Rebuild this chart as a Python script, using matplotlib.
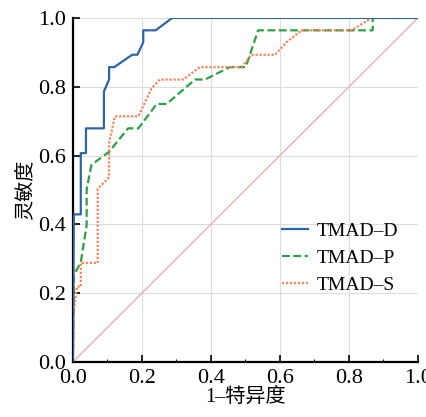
import matplotlib.pyplot as plt
from matplotlib.ticker import MultipleLocator

# ROC curves
d_fpr = [0, 0.003, 0.023, 0.023, 0.038, 0.038, 0.09, 0.09, 0.105, 0.105, 0.12, 0.172, 0.187, 0.204, 0.204, 0.24, 0.288, 1.0]
d_tpr = [0, 0.429, 0.429, 0.607, 0.607, 0.679, 0.679, 0.786, 0.821, 0.857, 0.857, 0.893, 0.893, 0.929, 0.964, 0.964, 1.0, 1.0]

p_fpr = [0, 0.003, 0.023, 0.03, 0.04, 0.04, 0.054, 0.105, 0.16, 0.19, 0.243, 0.272, 0.354, 0.383, 0.455, 0.501, 0.537, 0.869, 0.869, 1.0]
p_tpr = [0, 0.253, 0.289, 0.335, 0.398, 0.502, 0.573, 0.611, 0.679, 0.679, 0.75, 0.75, 0.821, 0.821, 0.857, 0.857, 0.964, 0.964, 1.0, 1.0]

s_fpr = [0, 0.003, 0.012, 0.023, 0.023, 0.072, 0.072, 0.105, 0.105, 0.122, 0.19, 0.228, 0.252, 0.32, 0.368, 0.489, 0.518, 0.586, 0.62, 0.663, 0.808, 0.866, 1.0]
s_tpr = [0, 0.151, 0.219, 0.219, 0.288, 0.288, 0.503, 0.537, 0.636, 0.714, 0.714, 0.795, 0.821, 0.821, 0.857, 0.857, 0.893, 0.893, 0.93, 0.964, 0.964, 1.0, 1.0]

plt.rcParams['font.family'] = ['Liberation Serif', 'Noto Sans CJK SC']
plt.rcParams['font.size'] = 15

fig = plt.figure(figsize=(4.26, 4.17), dpi=100)
ax = fig.add_axes([0.171, 0.132, 0.81, 0.825])

ax.plot([0, 1], [0, 1], color='#e6b0b6', lw=1.0, zorder=1)
ax.plot(d_fpr, d_tpr, color='#2d66a6', lw=1.6, label='TMAD–D', zorder=4)
ax.plot(p_fpr, p_tpr, color='#2ea043', lw=1.6, ls=(0, (3.5, 1.6)), label='TMAD–P', zorder=3)
ax.plot(s_fpr, s_tpr, color='#f5845a', lw=1.6, ls=(0, (1, 0.8)), label='TMAD–S', zorder=3)

ax.set_xlim(0, 1)
ax.set_ylim(0, 1)
ax.xaxis.set_major_locator(MultipleLocator(0.2))
ax.xaxis.set_minor_locator(MultipleLocator(0.1))
ax.yaxis.set_major_locator(MultipleLocator(0.2))
ax.set_xticklabels([f'{v:.1f}' for v in ax.get_xticks()])
ax.set_yticklabels([f'{v:.1f}' for v in ax.get_yticks()])
ax.tick_params(which='both', direction='in', top=False, right=False, labelsize=16)
ax.tick_params(which='major', length=5, width=1.2, pad=5)
ax.tick_params(which='minor', length=2.5, width=0.8)
ax.grid(True, color='#dddddd', lw=0.8)
ax.set_axisbelow(True)
for side in ['top', 'right']:
    ax.spines[side].set_visible(False)
for side in ['left', 'bottom']:
    ax.spines[side].set_linewidth(1.6)

ax.set_xlabel('1–特异度', fontsize=14.5, labelpad=0)
ax.set_ylabel('灵敏度', fontsize=14.5, labelpad=2)
ax.legend(loc='center left', bbox_to_anchor=(0.556, 0.302), frameon=False, fontsize=14,
          handlelength=1.35, handletextpad=0.4, labelspacing=0.5)

fig.savefig('out.png', dpi=100)
